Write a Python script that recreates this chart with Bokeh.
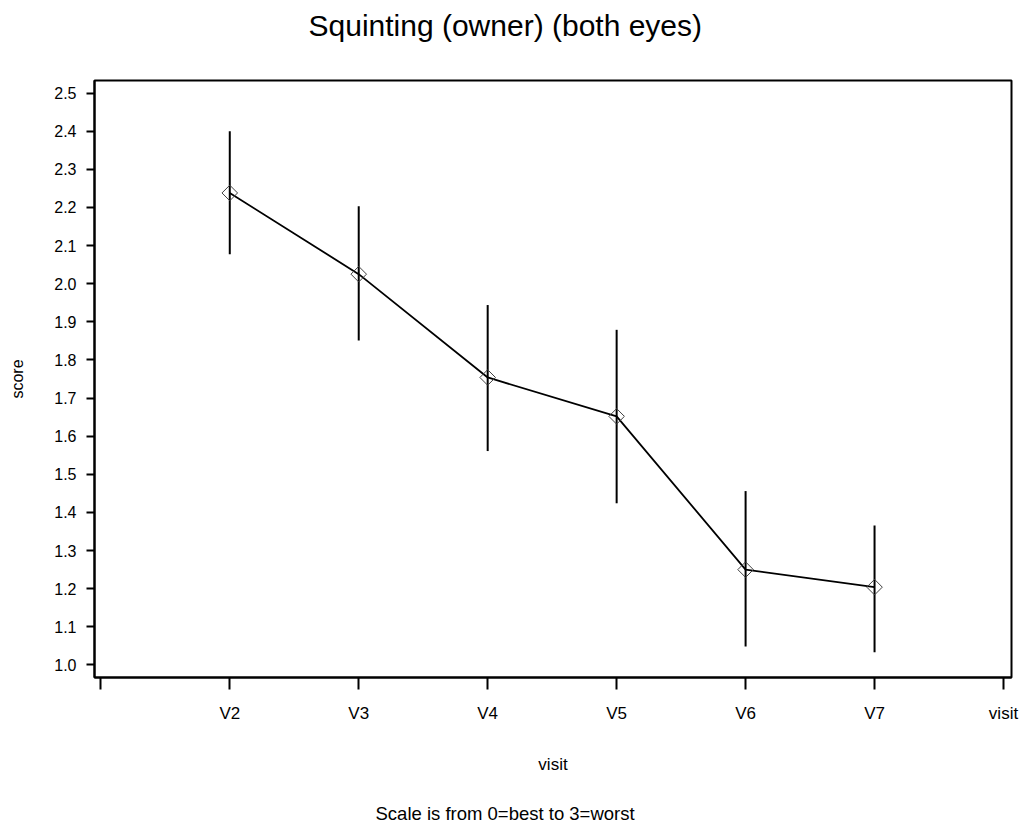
import math
from bokeh.plotting import figure
from bokeh.models import (ColumnDataSource, FixedTicker, NumeralTickFormatter,
                          Range1d, Title)
from bokeh.embed import file_html
from bokeh.resources import INLINE

# ---- data ----
visits = ["V2", "V3", "V4", "V5", "V6", "V7"]
means = [2.238, 2.025, 1.754, 1.652, 1.250, 1.204]
upper = [2.400, 2.203, 1.944, 1.879, 1.456, 1.366]
lower = [2.077, 1.851, 1.561, 1.424, 1.048, 1.033]
x_tick_labels = [""] + visits + ["visit"]
y_ticks = [1.0, 1.1, 1.2, 1.3, 1.4, 1.5, 1.6, 1.7, 1.8, 1.9, 2.0, 2.1, 2.2, 2.3, 2.4, 2.5]
title_text = "Squinting (owner) (both eyes)"
x_title = "visit"
note_text = "Scale is from 0=best to 3=worst"

FONT = "Liberation Sans"

xs = list(range(1, len(visits) + 1))
src = ColumnDataSource(dict(x=xs, mean=means, upper=upper, lower=lower))

p = figure(width=1021, height=823, output_backend="svg", toolbar_location=None,
           x_range=Range1d(-0.049, 7.062), y_range=Range1d(0.967, 2.533),
           min_border_left=94, min_border_right=10, min_border_top=80,
           min_border_bottom=142)

p.background_fill_color = "white"
p.border_fill_color = "white"
p.outline_line_color = "black"
p.outline_line_width = 2
p.xgrid.visible = False
p.ygrid.visible = False

# title: an empty second line lifts it away from the frame
p.title.text = title_text + "\n "
p.title.align = "left"
p.title.offset = 214
p.title.vertical_align = "bottom"
p.title.standoff = 12
p.title.text_font = FONT
p.title.text_font_size = "30px"
p.title.text_font_style = "normal"
p.title.text_color = "black"

# x axis (its title is a separate Title panel below)
xa = p.xaxis[0]
xa.ticker = FixedTicker(ticks=list(range(len(x_tick_labels))))
xa.major_label_overrides = {i: t for i, t in enumerate(x_tick_labels)}
xa.minor_tick_line_color = None
xa.major_tick_in = 0
xa.major_tick_out = 12
xa.major_tick_line_width = 2
xa.major_tick_line_color = "black"
xa.axis_line_color = "black"
xa.axis_line_width = 2
xa.major_label_text_font = FONT
xa.major_label_text_font_size = "17px"
xa.major_label_text_color = "black"
xa.major_label_standoff = 14

# y axis
ya = p.yaxis[0]
ya.ticker = FixedTicker(ticks=y_ticks)
ya.formatter = NumeralTickFormatter(format="0.0")
ya.minor_tick_line_color = None
ya.major_tick_in = 0
ya.major_tick_out = 8
ya.major_tick_line_width = 2
ya.major_tick_line_color = "black"
ya.axis_line_color = "black"
ya.axis_line_width = 2
ya.major_label_text_font = FONT
ya.major_label_text_font_size = "16px"
ya.major_label_text_color = "black"
ya.major_label_standoff = 10
ya.axis_label = "score"
ya.axis_label_text_font = FONT
ya.axis_label_text_font_size = "16px"
ya.axis_label_text_font_style = "normal"
ya.axis_label_text_color = "black"
ya.axis_label_standoff = 25

# x-axis title, centred on the frame
xt = Title(text=x_title, align="center", vertical_align="bottom", standoff=54,
           text_font=FONT, text_font_size="17px", text_font_style="normal",
           text_color="black")
p.add_layout(xt, "below")

# bottom note, centred on the page
note = Title(text=note_text, align="left", offset=281,
             vertical_align="bottom", standoff=0,
             text_font=FONT, text_font_size="18.5px", text_font_style="normal",
             text_color="black")
p.add_layout(note, "below")

# error bars
p.segment(x0="x", y0="lower", x1="x", y1="upper", source=src,
          line_color="black", line_width=2)
# connecting line
p.line(x="x", y="mean", source=src, line_color="black", line_width=1.8)
# diamond markers
p.scatter(x="x", y="mean", source=src, marker="square", size=11,
          angle=math.pi / 4, fill_color=None, line_color="#404040",
          line_width=1)

open("out.html", "w").write(file_html(p, INLINE))
